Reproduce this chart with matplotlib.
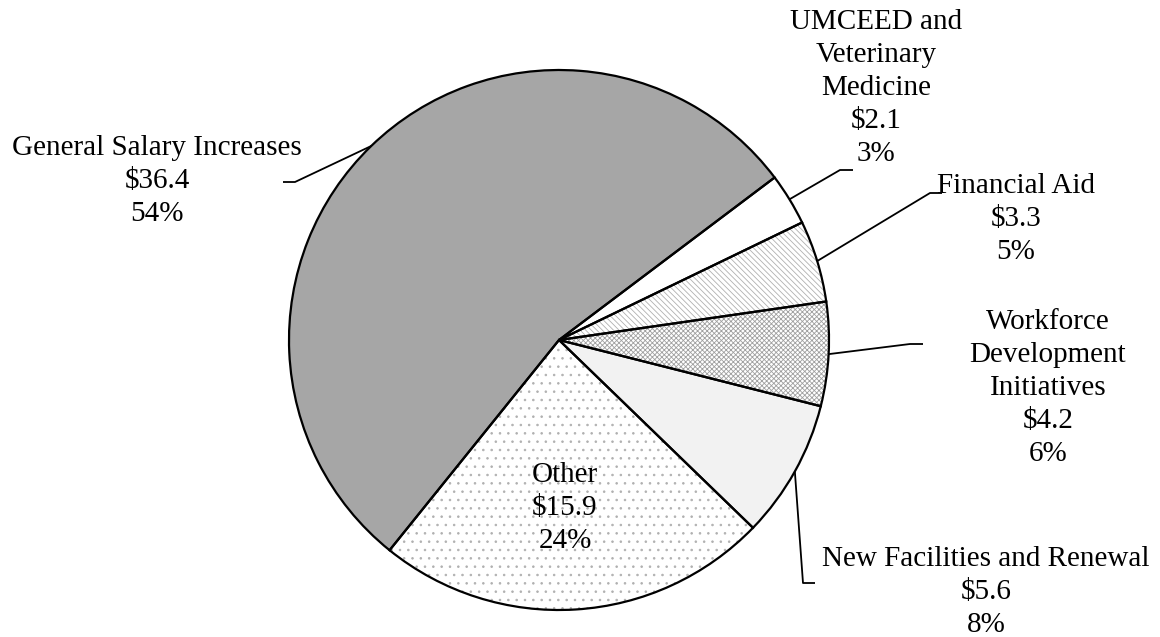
import numpy as np
import matplotlib
matplotlib.use("Agg")
import matplotlib.pyplot as plt

# data, clockwise from the top-right boundary
labels = ["UMCEED and\nVeterinary\nMedicine", "Financial Aid",
          "Workforce\nDevelopment\nInitiatives", "New Facilities and Renewal",
          "Other", "General Salary Increases"]
amounts = [2.1, 3.3, 4.2, 5.6, 15.9, 36.4]
percents = [3, 5, 6, 8, 24, 54]

faces = ["white", "white", "white", "#f2f2f2", "white", "#a6a6a6"]
hatches = [None, "\\" * 6, "x" * 7, None, "..", None]
hatch_cols = ["white", "#b0b0b0", "#a0a0a0", "#f2f2f2", "#b0b0b0", "#a6a6a6"]

W, H = 1160, 637
CX, CY, R = 559, 340, 270

def px(x, y):
    # pixel position -> data units (pie radius = 1)
    return (x - CX) / R, (CY - y) / R

# text centre and leader elbow/end, in pixels (None = label inside pie)
text_pos = [(876, 88), (1016, 219), (1048, 388), (986, 592), (565, 508), (157, 181)]
elbows = [((840, 170), (853, 170)), ((930, 193), (942, 193)),
          ((910, 344), (923, 344)), ((803, 583), (815, 583)),
          None, ((295, 182), (283, 182))]

plt.rcParams['font.family'] = ['Liberation Serif', 'DejaVu Serif']
plt.rcParams['hatch.linewidth'] = 0.6

fig = plt.figure(figsize=(W / 100, H / 100), dpi=100)
ax = fig.add_axes([0, 0, 1, 1])

wedges, _ = ax.pie(amounts, startangle=37, counterclock=False, radius=1,
                   colors=faces, wedgeprops=dict(linewidth=0))
for w, h, hc in zip(wedges, hatches, hatch_cols):
    if h:
        w.set_hatch(h)
        w.set_edgecolor(hc)

# outlines on top
outl, _ = ax.pie(amounts, startangle=37, counterclock=False, radius=1,
                 wedgeprops=dict(fill=False, edgecolor="black", linewidth=1.6))

for i, w in enumerate(wedges):
    txt = "{}\n${}\n{}%".format(labels[i], amounts[i], percents[i])
    tx, ty = px(*text_pos[i])
    ax.text(tx, ty, txt, ha="center", va="center", fontsize=21,
            linespacing=1.36, color="black")
    if elbows[i] is not None:
        mid = np.deg2rad((w.theta1 + w.theta2) / 2)
        x0, y0 = np.cos(mid), np.sin(mid)
        (ex, ey), (fx, fy) = px(*elbows[i][0]), px(*elbows[i][1])
        ax.plot([x0, ex, fx], [y0, ey, fy], color="black", lw=1.3,
                solid_capstyle="butt")

ax.set_xlim(px(0, 0)[0], px(W, 0)[0])
ax.set_ylim(px(0, H)[1], px(0, 0)[1])
ax.set_aspect("auto")
ax.axis("off")

fig.savefig("out.png", dpi=100, facecolor="white")
